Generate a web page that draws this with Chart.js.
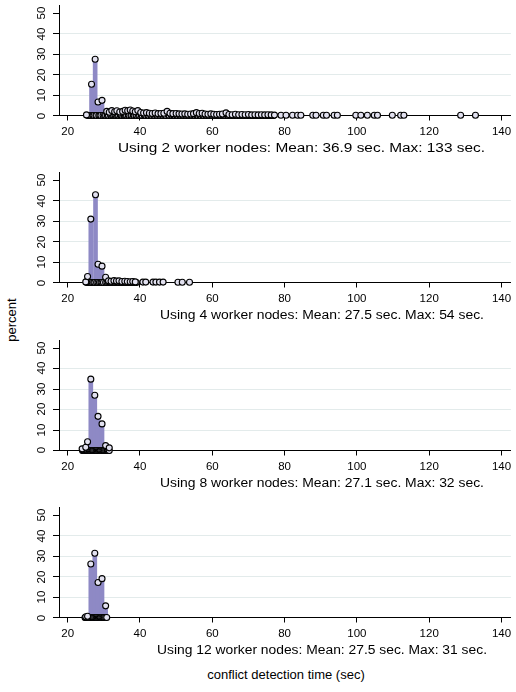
<!DOCTYPE html>
<html>
<head>
<meta charset="utf-8">
<script src="https://cdn.jsdelivr.net/npm/chart.js@4.4.1/dist/chart.umd.min.js"></script>
<style>
  html, body { margin: 0; padding: 0; background: #fff; }
  body { width: 516px; height: 692px; position: relative; overflow: hidden; font-family: "Liberation Sans", Arial, sans-serif; }
  .panel { position: absolute; left: 0; width: 516px; height: 150px; }
  .ttl { position: absolute; white-space: nowrap; font-size: 12.5px; color: #000; transform-origin: 0 0; line-height: 14px; }
  .ytk { position: absolute; white-space: nowrap; font-size: 11.5px; line-height: 12px; color: #000; transform: translate(-50%, -50%) rotate(-90deg); }
  #ylab { position: absolute; left: 11px; top: 320px; transform: translate(-50%, -50%) rotate(-90deg); font-size: 13px; white-space: nowrap; }
  #xlab { position: absolute; left: 286px; top: 667px; transform: translateX(-50%); font-size: 13px; white-space: nowrap; }
</style>
</head>
<body>
<div id="ylab">percent</div>
<div id="xlab">conflict detection time (sec)</div>
<script>
// ---------- data ----------
const xTicks = [20, 40, 60, 80, 100, 120, 140];
const yTicks = [0, 10, 20, 30, 40, 50];
const panelTitles = [
  "Using 2 worker nodes: Mean: 36.9 sec. Max: 133 sec.",
  "Using 4 worker nodes: Mean: 27.5 sec. Max: 54 sec.",
  "Using 8 worker nodes: Mean: 27.1 sec. Max: 32 sec.",
  "Using 12 worker nodes: Mean: 27.5 sec. Max: 31 sec."
];

// 2 worker nodes
const p1Time = [25.2, 26.6, 27.6, 28.4, 29.5, 30.8, 31.5, 32.2, 33.0, 33.6, 34.4, 35.2, 35.9, 36.6, 37.3, 38.0, 38.7, 39.4, 40.2, 41.0, 41.8, 42.6, 43.4, 44.2, 45.0, 45.8, 46.6, 47.5, 48.3, 49.1, 50.0, 50.8, 51.6, 52.4, 53.2, 54.0, 54.8, 55.6, 56.4, 57.2, 58.0, 58.8, 59.6, 60.4, 61.2, 62.0, 62.8, 63.8, 64.6, 65.5, 66.4, 67.3, 68.2, 69.1, 70.0, 70.9, 71.8, 72.7, 73.6, 74.5, 75.4, 76.3, 77.2, 79.0, 80.4, 82.2, 83.6, 84.5, 87.8, 88.7, 90.7, 91.6, 93.7, 94.6, 99.7, 101.1, 102.9, 104.8, 105.7, 109.8, 112.1, 113.0, 128.7, 132.8];
const p1Pct  = [0.3, 15.3, 27.5, 6.6, 7.4, 2.0, 1.6, 2.4, 1.8, 2.3, 1.7, 2.0, 2.6, 2.3, 2.7, 2.2, 1.8, 2.4, 1.5, 1.2, 1.4, 1.1, 1.0, 1.2, 0.9, 1.0, 1.1, 2.0, 1.1, 0.9, 1.0, 0.8, 0.7, 0.8, 0.6, 0.7, 0.9, 1.4, 1.0, 1.1, 0.7, 0.6, 0.8, 0.6, 0.5, 0.6, 0.7, 1.3, 0.5, 0.4, 0.6, 0.4, 0.5, 0.4, 0.5, 0.3, 0.4, 0.3, 0.4, 0.3, 0.4, 0.3, 0.2, 0.1, 0.1, 0.1, 0.1, 0.1, 0.1, 0.1, 0.1, 0.1, 0.1, 0.1, 0.1, 0.1, 0.1, 0.1, 0.1, 0.1, 0.1, 0.1, 0.1, 0.1];
const p1Rug  = [25.6, 25.9, 26.2, 26.5, 27.0, 27.3, 27.8, 28.0, 28.6, 28.9, 29.2, 29.8, 30.2, 30.5, 31.0, 31.3, 31.9, 32.0, 32.4, 32.7, 33.1, 33.4, 33.8, 34.1, 34.6, 34.8, 35.0, 35.5, 35.7, 36.0, 36.3, 36.8, 37.0, 37.5, 37.7, 38.2, 38.4, 38.9, 39.1, 39.6, 39.9, 40.4, 40.6, 41.2, 41.4, 41.6, 42.2, 42.4, 43.0, 43.2, 43.8, 44.0, 44.6, 44.8, 45.4, 45.6, 46.2, 46.4, 47.0, 47.2, 47.9, 48.1, 48.7, 48.9, 49.4, 49.6, 50.2, 50.4, 51.0, 51.2, 51.8, 52.0, 52.6, 52.8, 53.4, 53.6, 54.2, 54.4, 55.0, 55.2, 55.8, 56.0, 56.6, 56.8, 57.4, 57.6, 58.2, 58.4, 59.0, 59.2, 59.8, 60.0, 60.6, 60.8, 61.4, 61.6, 62.2, 62.4, 63.0, 63.3, 63.6, 64.2, 64.4, 65.0, 65.2, 65.9, 66.1, 66.8, 67.0, 67.7, 67.9, 68.6, 68.8, 69.5, 69.7, 70.4, 70.6, 71.3, 71.5, 72.2, 72.4, 73.1, 73.3, 74.0, 74.2, 74.9, 75.1, 75.8, 76.0, 76.7, 76.9];

// 4 worker nodes
const p2Time = [25.0, 25.5, 26.4, 27.7, 28.4, 29.5, 30.5, 31.3, 32.0, 32.8, 33.5, 34.2, 35.0, 35.8, 36.5, 37.3, 38.0, 38.7, 40.8, 41.6, 43.6, 44.4, 45.4, 46.4, 50.5, 51.7, 53.7];
const p2Pct  = [0.3, 2.9, 31.0, 42.9, 8.9, 8.0, 2.6, 0.8, 0.6, 0.9, 0.7, 0.8, 0.5, 0.6, 0.5, 0.4, 0.5, 0.3, 0.2, 0.2, 0.2, 0.2, 0.2, 0.2, 0.1, 0.1, 0.1];
const p2Rug  = [25.3, 25.6, 26.0, 26.4, 26.8, 27.2, 27.5, 28.0, 28.4, 28.8, 29.2, 29.5, 29.9, 30.5, 30.9, 31.3, 31.7, 32.0, 32.4, 32.8, 33.1, 33.5, 33.9, 34.2, 34.6, 35.0, 35.4, 35.8, 36.1, 36.5, 36.9, 37.3, 37.6, 38.0, 38.3, 38.7, 39.0];

// 8 worker nodes
const p3Time = [24.0, 25.0, 25.5, 26.4, 27.5, 28.4, 29.5, 30.5, 31.5];
const p3Pct  = [0.8, 1.6, 4.3, 34.9, 27.0, 16.7, 13.0, 2.4, 1.3];
const p3Rug  = [24.1, 24.3, 24.5, 24.7, 25.0, 25.3, 25.5, 25.8, 26.0, 26.2, 26.5, 26.8, 27.0, 27.2, 27.5, 27.8, 28.0, 28.2, 28.5, 28.8, 29.0, 29.2, 29.5, 29.8, 30.0, 30.2, 30.5, 30.8, 31.0, 31.2, 31.5];

// 12 worker nodes
const p4Time = [25.0, 25.5, 26.4, 27.5, 28.4, 29.5, 30.5];
const p4Pct  = [0.4, 0.6, 26.2, 31.4, 17.1, 19.0, 5.7];
const p4Rug  = [24.8, 25.0, 25.2, 25.5, 25.8, 26.0, 26.2, 26.5, 26.8, 27.0, 27.2, 27.5, 27.8, 28.0, 28.2, 28.5, 28.8, 29.0, 29.2, 29.5, 29.8, 30.0, 30.2, 30.5, 30.8];

// ---------- layout ----------
const panels = [
  { time: p1Time, pct: p1Pct, rug: p1Rug },
  { time: p2Time, pct: p2Pct, rug: p2Rug },
  { time: p3Time, pct: p3Pct, rug: p3Rug },
  { time: p4Time, pct: p4Pct, rug: p4Rug }
];
const zeroLine = [115.5, 282.7, 450.0, 617.7];
const titleLeft = [118, 160, 160, 157];
const titleRight = [485, 484, 484, 487];
const titleTop = [141, 308.4, 475.8, 643.2];

const FONT = "'Liberation Sans', Arial, sans-serif";
const barColor = '#8e89c5';
const gridColor = '#e3ebeb';

panels.forEach((p, i) => {
  const top = zeroLine[i] - 115.5;
  const wrap = document.createElement('div');
  wrap.className = 'panel';
  wrap.style.top = top + 'px';
  const cv = document.createElement('canvas');
  cv.width = 516; cv.height = 150;
  wrap.appendChild(cv);
  document.body.appendChild(wrap);

  const pts = p.time.map((t, k) => ({ x: t, y: p.pct[k] }));
  const rug = p.rug.map(t => ({ x: t, y: 0 }));

  const chart = new Chart(cv, {
    type: 'scatter',
    data: {
      datasets: [
        { type: 'bar', data: pts, backgroundColor: barColor, borderWidth: 0, barThickness: 4, order: 3 },
        { type: 'scatter', data: rug, pointRadius: 3, pointBorderWidth: 1.1, pointBorderColor: '#000', pointBackgroundColor: '#e2e1f0', clip: false, order: 2 },
        { type: 'scatter', data: pts, pointRadius: 3, pointBorderWidth: 1.1, pointBorderColor: '#000', pointBackgroundColor: '#e2e1f0', clip: false, order: 1 }
      ]
    },
    options: {
      responsive: false,
      animation: false,
      devicePixelRatio: 1,
      layout: { padding: { top: 1.6, right: 3, left: 0, bottom: 0 } },
      plugins: { legend: { display: false }, tooltip: { enabled: false } },
      scales: {
        x: {
          type: 'linear', min: 17.6, max: 142.6, offset: false,
          afterBuildTicks: s => { s.ticks = xTicks.map(v => ({ value: v })); },
          afterFit: s => { s.height = 34.5; s.paddingLeft = 0; s.paddingRight = 0; },
          grid: { drawOnChartArea: false, drawTicks: true, tickLength: 5, tickColor: '#000', offset: false },
          border: { display: true, color: '#000', width: 1 },
          ticks: { color: '#000', font: { family: FONT, size: 11.5 }, padding: 4.5, maxRotation: 0, minRotation: 0, autoSkip: false }
        },
        y: {
          type: 'linear', min: 0, max: 54,
          afterBuildTicks: s => { s.ticks = yTicks.map(v => ({ value: v })); },
          afterFit: s => { s.width = 59; s.paddingTop = 0; s.paddingBottom = 0; },
          grid: {
            drawOnChartArea: true, drawTicks: true, tickLength: 6, tickColor: '#000',
            color: c => (c.tick && (c.tick.value === 0 || c.tick.value === 50)) ? 'rgba(0,0,0,0)' : gridColor
          },
          border: { display: true, color: '#000', width: 1 },
          ticks: { display: false }
        }
      }
    }
  });

  // rotated (vertical) y tick labels, positioned from the chart's own y scale
  const ys = chart.scales.y;
  yTicks.forEach(v => {
    const d = document.createElement('div');
    d.className = 'ytk';
    d.textContent = String(v);
    d.style.left = '41px';
    d.style.top = (top + ys.getPixelForValue(v)) + 'px';
    document.body.appendChild(d);
  });

  const t = document.createElement('div');
  t.className = 'ttl';
  t.textContent = panelTitles[i];
  t.style.left = titleLeft[i] + 'px';
  t.style.top = titleTop[i] + 'px';
  document.body.appendChild(t);
  const w = t.getBoundingClientRect().width;
  t.style.transform = 'scaleX(' + ((titleRight[i] - titleLeft[i]) / w) + ')';
});
</script>
</body>
</html>
